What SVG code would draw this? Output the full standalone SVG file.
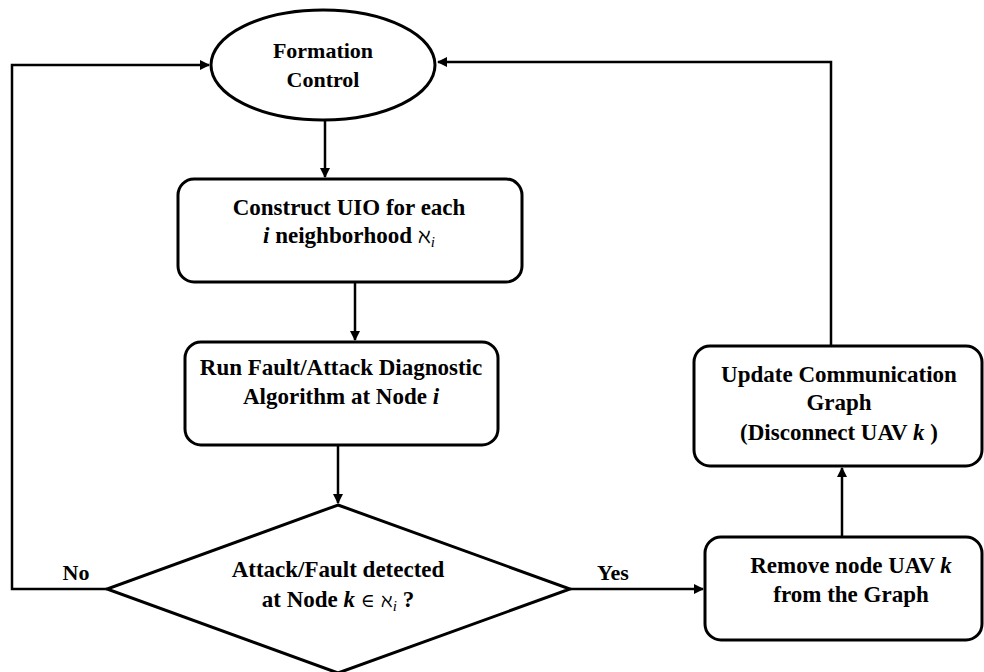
<svg xmlns="http://www.w3.org/2000/svg" width="984" height="672" viewBox="0 0 984 672">
<defs>
<style>
.shape{fill:#fff;stroke:#000;stroke-width:3}
.ln{fill:none;stroke:#000;stroke-width:2.5}
</style>
<marker id="ah" markerWidth="10" markerHeight="10" refX="9" refY="5" orient="auto" markerUnits="userSpaceOnUse">
<path d="M0,0 L10,5 L0,10 Z" fill="#000"/>
</marker>
</defs>
<g id="connectors">
<path class="ln" d="M325,120 V177" marker-end="url(#ah)"/>
<path class="ln" d="M355,282 V340" marker-end="url(#ah)"/>
<path class="ln" d="M338,445 V503" marker-end="url(#ah)"/>
<path class="ln" d="M107,589 H12 V65 H209" marker-end="url(#ah)"/>
<path class="ln" d="M570,589 H703" marker-end="url(#ah)"/>
<path class="ln" d="M842,537 V468" marker-end="url(#ah)"/>
<path class="ln" d="M831,346 V62 H438" marker-end="url(#ah)"/>
<text x="76" y="580" font-family="Liberation Serif" font-weight="bold" font-size="22" text-anchor="middle">No</text>
<text x="613" y="580" font-family="Liberation Serif" font-weight="bold" font-size="22" text-anchor="middle">Yes</text>
</g>
<g id="formation">
<ellipse class="shape" cx="323" cy="65" rx="112" ry="55"/>
<text x="323" y="58" font-family="Liberation Serif" font-weight="bold" font-size="22" text-anchor="middle">Formation</text>
<text x="323" y="87" font-family="Liberation Serif" font-weight="bold" font-size="22" text-anchor="middle">Control</text>
</g>
<g id="construct">
<rect class="shape" x="178" y="179" width="344" height="103" rx="16"/>
<text x="349" y="215" font-family="Liberation Serif" font-weight="bold" font-size="23" text-anchor="middle">Construct UIO for each</text>
<text x="349" y="243" font-family="Liberation Serif" font-weight="bold" font-size="23" text-anchor="middle"><tspan font-style="italic">i</tspan> neighborhood  <tspan font-family="DejaVu Serif" font-weight="normal" font-size="21">ℵ</tspan><tspan font-style="italic" font-weight="normal" font-size="15" dy="4">i</tspan></text>
</g>
<g id="run">
<rect class="shape" x="185" y="342" width="313" height="103" rx="16"/>
<text x="341" y="375" font-family="Liberation Serif" font-weight="bold" font-size="23" text-anchor="middle">Run Fault/Attack Diagnostic</text>
<text x="341" y="404" font-family="Liberation Serif" font-weight="bold" font-size="23" text-anchor="middle">Algorithm at Node <tspan font-style="italic">i</tspan></text>
</g>
<g id="decision">
<path class="shape" d="M338,505 L570,589 L338,673 L107,589 Z"/>
<text x="338" y="577" font-family="Liberation Serif" font-weight="bold" font-size="23" text-anchor="middle">Attack/Fault detected</text>
<text x="338" y="607" font-family="Liberation Serif" font-weight="bold" font-size="23" text-anchor="middle">at Node <tspan font-style="italic">k</tspan> <tspan font-family="DejaVu Serif" font-weight="normal" font-size="19">∈ ℵ</tspan><tspan font-style="italic" font-weight="normal" font-size="15" dy="4">i</tspan><tspan dy="-4"> ?</tspan></text>
</g>
<g id="update">
<rect class="shape" x="694" y="346" width="288" height="120" rx="16"/>
<text x="839" y="382" font-family="Liberation Serif" font-weight="bold" font-size="23" text-anchor="middle">Update Communication</text>
<text x="839" y="410" font-family="Liberation Serif" font-weight="bold" font-size="23" text-anchor="middle">Graph</text>
<text x="839" y="440" font-family="Liberation Serif" font-weight="bold" font-size="23" text-anchor="middle">(Disconnect UAV <tspan font-style="italic">k</tspan> )</text>
</g>
<g id="remove">
<rect class="shape" x="705" y="537" width="277" height="103" rx="16"/>
<text x="851" y="573" font-family="Liberation Serif" font-weight="bold" font-size="23" text-anchor="middle">Remove node UAV <tspan font-style="italic">k</tspan></text>
<text x="851" y="602" font-family="Liberation Serif" font-weight="bold" font-size="23" text-anchor="middle">from the Graph</text>
</g>
</svg>
